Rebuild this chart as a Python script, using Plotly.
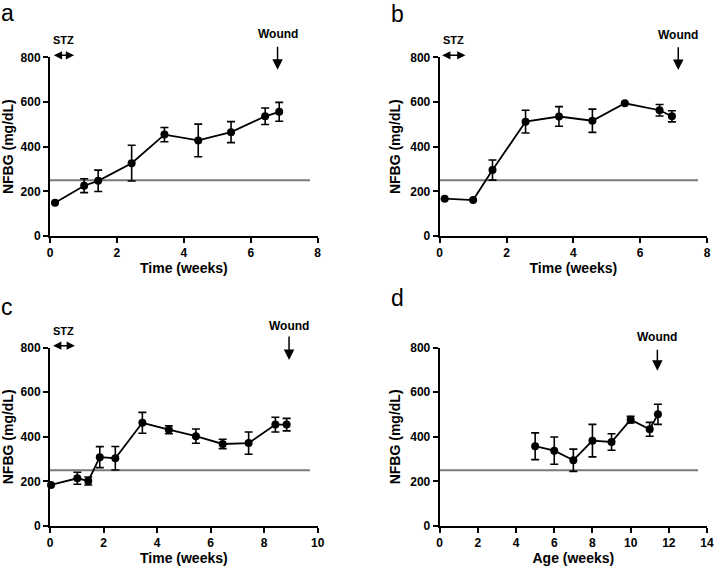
import plotly.graph_objects as go

# ---------------- data ----------------
a_x = [0.15, 1.02, 1.44, 2.44, 3.42, 4.43, 5.41, 6.43, 6.85]
a_y = [149, 225, 247, 326, 454, 428, 465, 536, 556]
a_err = [0, 31, 48, 80, 32, 73, 47, 37, 42]

b_x = [0.15, 1.0, 1.58, 2.57, 3.57, 4.57, 5.54, 6.58, 6.95]
b_y = [167, 161, 295, 512, 535, 516, 594, 563, 536]
b_err = [0, 0, 45, 51, 44, 52, 0, 26, 25]

c_x = [0.04, 1.02, 1.43, 1.86, 2.44, 3.45, 4.44, 5.45, 6.45, 7.42, 8.42, 8.84]
c_y = [184, 214, 202, 309, 304, 463, 432, 403, 368, 372, 455, 455]
c_err = [0, 27, 18, 47, 53, 47, 18, 32, 21, 50, 33, 28]

d_x = [5.0, 6.0, 7.0, 8.0, 9.0, 10.0, 11.0, 11.43]
d_y = [358, 338, 295, 383, 377, 477, 434, 501]
d_err = [60, 61, 50, 73, 37, 15, 31, 45]

threshold = 250
threshold_end = [7.77, 7.73, 9.71, 13.53]
x_max = [8, 8, 10, 14]
x_titles = ["Time (weeks)", "Time (weeks)", "Time (weeks)", "Age (weeks)"]
y_title = "NFBG (mg/dL)"
panel_letters = ["a", "b", "c", "d"]
wound_x = [6.8, 7.14, 8.93, 11.4]
stz_range = [(0.07, 0.72), (0.03, 0.77), (0.06, 0.93), None]

series = [(a_x, a_y, a_err), (b_x, b_y, b_err), (c_x, c_y, c_err), (d_x, d_y, d_err)]

# ---------------- layout geometry ----------------
W, H = 717, 572
x_doms = [(50, 317.7), (439.7, 707), (50, 317.7), (439.7, 707)]
y_doms = [(57.3, 236), (57.3, 236), (347.7, 526), (347.7, 526)]  # top, bottom in px

def py(px):
    return 1 - px / H

FONT = "Liberation Sans"
fig = go.Figure()
annotations = []

# per-panel annotation offsets (px relative to plot top)
wound_text_off = [-23, -22, -22, -11]
wound_tail_off = [-12, -11.6, -12.7, 0.6]
wound_head_off = [12.5, 12.7, 12.3, 23]
letter_off = [-44.3, -43.8, -41.2, -49.7]
letter_left = [3, 393, 3, 393]

for i, (xs, ys, es) in enumerate(series):
    xa = "x" if i == 0 else f"x{i+1}"
    ya = "y" if i == 0 else f"y{i+1}"
    # threshold line
    fig.add_trace(go.Scatter(
        x=[0, threshold_end[i]], y=[threshold, threshold], mode="lines",
        line=dict(color="#7a7a7a", width=2), xaxis=xa, yaxis=ya,
        showlegend=False, hoverinfo="skip"))
    fig.add_trace(go.Scatter(
        x=xs, y=ys, mode="lines+markers",
        line=dict(color="black", width=1.8),
        marker=dict(color="black", size=8),
        error_y=dict(type="data", array=es, visible=True, color="black",
                     thickness=1.6, width=4),
        xaxis=xa, yaxis=ya, showlegend=False, cliponaxis=False))

    axis_common = dict(showline=True, linecolor="black", linewidth=2,
                       ticks="outside", ticklen=5, tickwidth=2, tickcolor="black",
                       showgrid=False, zeroline=False, automargin=False,
                       tickfont=dict(family=FONT, size=12, color="black", weight="bold"))
    xd = x_doms[i]
    yd = y_doms[i]
    fig.layout[f"xaxis{'' if i == 0 else i+1}"] = dict(
        domain=[xd[0] / W, xd[1] / W], anchor=ya, range=[0, x_max[i]], dtick=2,
        title=dict(text=x_titles[i], font=dict(family=FONT, size=14, color="black", weight="bold"),
                   standoff=4),
        **axis_common)
    fig.layout[f"yaxis{'' if i == 0 else i+1}"] = dict(
        domain=[py(yd[1]), py(yd[0])], anchor=xa, range=[0, 800], dtick=200,
        title=dict(text=y_title, font=dict(family=FONT, size=14, color="black", weight="bold"),
                   standoff=6),
        **axis_common)

    top = yd[0]
    # panel letter
    annotations.append(dict(text=panel_letters[i], x=(letter_left[i] - 4) / W, y=py(top + letter_off[i]),
                            xref="paper", yref="paper", xanchor="left", yanchor="middle",
                            showarrow=False,
                            font=dict(family=FONT, size=23, color="black")))
    # Wound
    annotations.append(dict(text="Wound", x=wound_x[i], y=py(top + wound_text_off[i]),
                            xref=xa, yref="paper", xanchor="center", yanchor="middle",
                            showarrow=False,
                            font=dict(family=FONT, size=12, color="black", weight="bold")))
    annotations.append(dict(text="", x=wound_x[i], y=py(top + wound_head_off[i]),
                            ax=0, ay=-(wound_head_off[i] - wound_tail_off[i]),
                            xref=xa, yref="paper", axref="pixel", ayref="pixel",
                            showarrow=True, arrowhead=2, arrowsize=1.4, arrowwidth=1.5,
                            arrowcolor="black", standoff=0, startstandoff=0))
    # STZ
    if stz_range[i] is not None:
        s0, s1 = stz_range[i]
        annotations.append(dict(text="STZ", x=(s0 + s1) / 2, y=py(top - 17),
                                xref=xa, yref="paper", xanchor="center", yanchor="middle",
                                showarrow=False,
                                font=dict(family=FONT, size=11, color="black", weight="bold")))
        annotations.append(dict(text="", x=s1, y=py(top - 2), ax=s0, ay=0,
                                xref=xa, yref="paper", axref=xa, ayref="pixel",
                                showarrow=True, arrowhead=2, arrowside="end+start",
                                arrowsize=1.1, arrowwidth=1.5, arrowcolor="black",
                                standoff=0, startstandoff=0))

fig.update_layout(width=W, height=H, margin=dict(l=0, r=0, t=0, b=0, autoexpand=False),
                  plot_bgcolor="white", paper_bgcolor="white",
                  annotations=annotations, showlegend=False)

fig.write_html("out.html", config={"displayModeBar": False},
               post_script="document.body.style.margin='0';document.body.style.padding='0';")
